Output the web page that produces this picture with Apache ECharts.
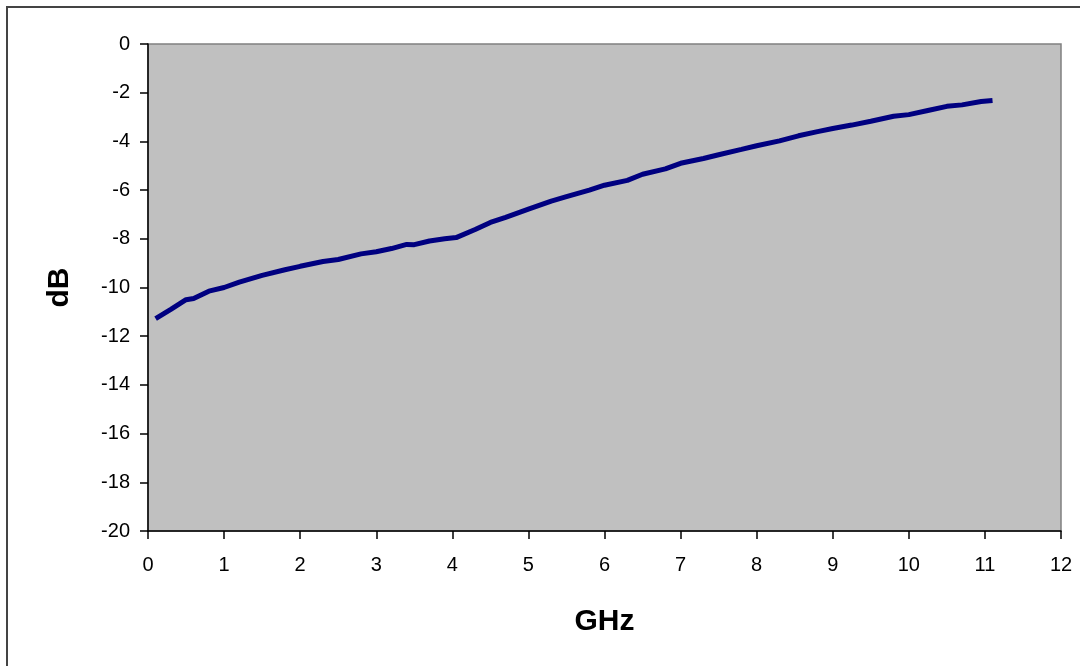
<!DOCTYPE html>
<html>
<head>
<meta charset="utf-8">
<script src="https://cdn.jsdelivr.net/npm/echarts@6/dist/echarts.min.js"></script>
<style>
html,body{margin:0;padding:0;background:#fff;}
#chart{width:1080px;height:666px;}
</style>
</head>
<body>
<div id="chart"></div>
<script>
var freqGHz = [0.1, 0.3, 0.5, 0.6, 0.8, 1.0, 1.2, 1.5, 1.8, 2.0, 2.3, 2.5, 2.8, 3.0, 3.2, 3.4, 3.5, 3.7, 3.9, 4.05, 4.3, 4.5, 4.7, 5.0, 5.3, 5.5, 5.8, 6.0, 6.3, 6.5, 6.8, 7.0, 7.3, 7.5, 7.8, 8.0, 8.3, 8.55, 8.8, 9.0, 9.25, 9.5, 9.8, 10.0, 10.25, 10.5, 10.7, 10.95, 11.1];
var gainDB = [-11.28, -10.9, -10.5, -10.45, -10.15, -10.0, -9.78, -9.5, -9.27, -9.13, -8.93, -8.85, -8.62, -8.53, -8.4, -8.23, -8.24, -8.09, -8.0, -7.95, -7.62, -7.33, -7.12, -6.78, -6.45, -6.27, -6.0, -5.8, -5.6, -5.35, -5.13, -4.9, -4.7, -4.55, -4.33, -4.18, -3.98, -3.77, -3.6, -3.47, -3.33, -3.17, -2.97, -2.9, -2.73, -2.56, -2.5, -2.36, -2.32];
var xAxisTitle = 'GHz';
var yAxisTitle = 'dB';

var seriesData = freqGHz.map(function (f, i) { return [f, gainDB[i]]; });
var chart = echarts.init(document.getElementById('chart'), null, {renderer: 'canvas'});
var font = '"Liberation Sans", Arial, sans-serif';
chart.setOption({
  animation: false,
  backgroundColor: '#ffffff',
  graphic: [{
    type: 'rect', z: -10,
    shape: {x: 7, y: 7, width: 1090, height: 680},
    style: {fill: 'none', stroke: '#444444', lineWidth: 2}
  }],
  grid: {left: 148, right: 19, top: 44, bottom: 135, show: true,
    backgroundColor: '#c0c0c0', borderColor: '#808080', borderWidth: 1.5},
  xAxis: {
    type: 'value', min: 0, max: 12, interval: 1,
    name: xAxisTitle, nameLocation: 'middle', nameGap: 76,
    nameTextStyle: {fontFamily: font, fontSize: 30, fontWeight: 'bold', color: '#000'},
    axisLine: {onZero: false, lineStyle: {color: '#000', width: 1.5}},
    axisTick: {show: true, length: 8, inside: false, lineStyle: {color: '#000', width: 1.5}},
    axisLabel: {fontFamily: font, fontSize: 20, color: '#000', margin: 24},
    splitLine: {show: false}
  },
  yAxis: {
    type: 'value', min: -20, max: 0, interval: 2,
    name: yAxisTitle, nameLocation: 'middle', nameGap: 73, nameRotate: 90,
    nameTextStyle: {fontFamily: font, fontSize: 30, fontWeight: 'bold', color: '#000'},
    axisLine: {show: true, onZero: false, lineStyle: {color: '#000', width: 1.5}},
    axisTick: {show: true, length: 8, inside: false, lineStyle: {color: '#000', width: 1.5}},
    axisLabel: {fontFamily: font, fontSize: 20, color: '#000', margin: 18},
    splitLine: {show: false}
  },
  series: [{
    type: 'line', data: seriesData, showSymbol: false, smooth: false,
    lineStyle: {color: '#000080', width: 5}, itemStyle: {color: '#000080'}
  }]
});
</script>
</body>
</html>
